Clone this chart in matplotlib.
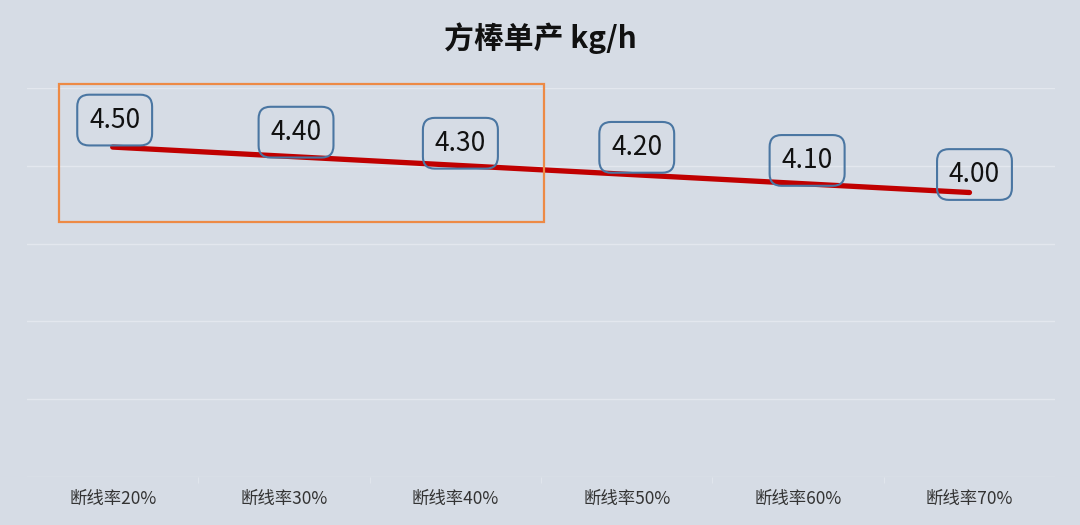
import numpy as np
import matplotlib.pyplot as plt
from matplotlib.patches import Rectangle

plt.rcParams['font.family'] = ['Noto Sans CJK SC', 'DejaVu Sans']

categories = ['断线率20%', '断线率30%', '断线率40%', '断线率50%', '断线率60%', '断线率70%']
output = [4.50, 4.40, 4.30, 4.20, 4.10, 4.00]
title = '方棒单产 kg/h'

bg = '#D6DCE5'
fig = plt.figure(figsize=(10.8, 5.25), dpi=100, facecolor=bg)
ax = fig.add_axes([0.025, 0.0914, 0.952, 0.741])
ax.set_facecolor(bg)

x = np.arange(len(categories))
ax.plot(x, output, color='#C00000', linewidth=3.8, solid_capstyle='round', zorder=3)

# label boxes, nudged by hand like the original (pixels)
dx = [2, 12, 5, 10, 9, 5]
dy = [27, 24, 22, 27, 23, 18]
for i, v in enumerate(output):
    ax.annotate(f'{v:.2f}', (x[i], v), xytext=(dx[i] * 0.72, dy[i] * 0.72),
                textcoords='offset points', ha='center', va='center',
                fontsize=19, color='#111111', zorder=4,
                bbox=dict(boxstyle='round,pad=0.45,rounding_size=0.45',
                          fc='none', ec='#4A76A2', lw=1.5))

ax.set_xlim(-0.5, len(categories) - 0.5)
ax.set_ylim(0.87, 5.15)
ax.set_yticks(np.linspace(0.87, 5.15, 6))
ax.set_yticklabels([])
ax.tick_params(axis='y', length=0)
ax.grid(axis='y', color='#E3E7EE', linewidth=1.0)
ax.set_axisbelow(True)

ax.set_xticks(x)
ax.set_xticklabels(categories, fontsize=12.5, color='#333333')
ax.tick_params(axis='x', length=0, pad=9)
ax.set_xticks(np.arange(0.5, len(categories) - 1, 1), minor=True)
ax.tick_params(axis='x', which='minor', length=4, color='#E3E7EE')

for s in ax.spines.values():
    s.set_visible(False)

fig.text(0.5, 0.928, title, ha='center', va='center', fontsize=21.5,
         fontweight='bold', color='#111111')

# orange highlight box around the first three points
fig.patches.append(Rectangle((59 / 1080, 1 - 222 / 525), 485 / 1080, 138 / 525,
                             transform=fig.transFigure, fill=False,
                             ec='#ED8A45', lw=1.6, zorder=5))

fig.savefig('out.png', dpi=100, facecolor=bg)
